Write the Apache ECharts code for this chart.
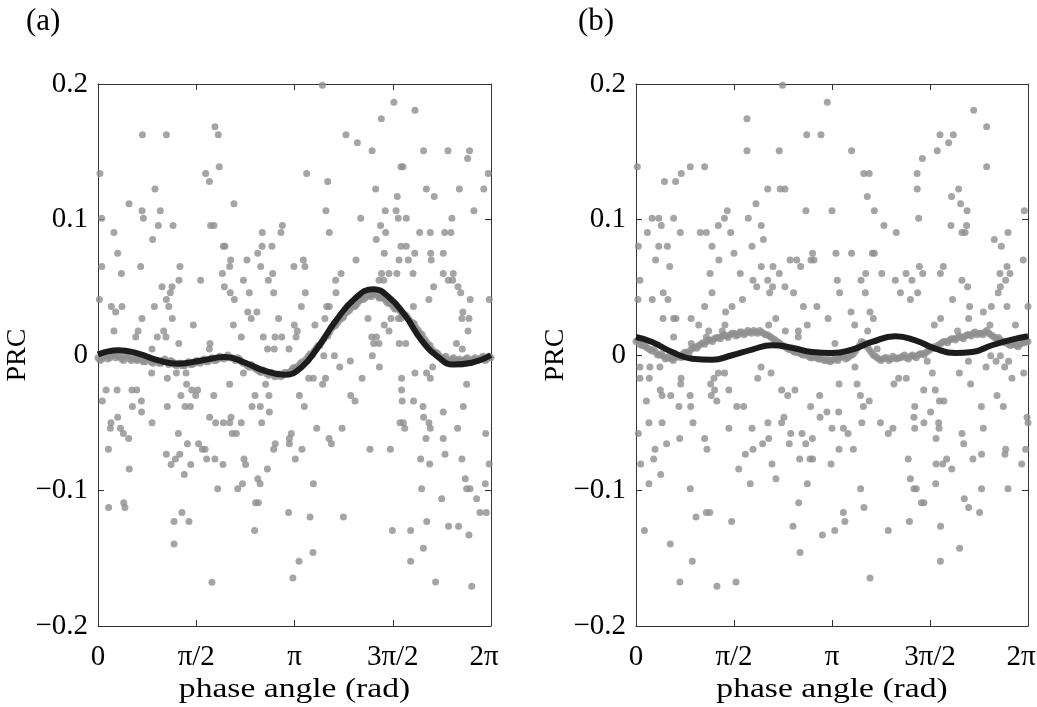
<!DOCTYPE html>
<html>
<head>
<meta charset="utf-8">
<script src="https://cdn.jsdelivr.net/npm/echarts@6/dist/echarts.min.js"></script>
<style>
  html, body { margin: 0; padding: 0; background: #fff; }
  #main { width: 1037px; height: 707px; }
</style>
</head>
<body>
<div id="main"></div>
<script>
// tick labels and titles
var xTickLabels = ['0', 'π/2', 'π', '3π/2', '2π'];
var yTickLabels = ['−0.2', '−0.1', '0', '0.1', '0.2'];
var panelTitles = ['(a)', '(b)'];
var xName = 'phase angle (rad)';
var yName = 'PRC';

// data: [phase (multiples of π), PRC]
// (a) scattered samples
var dotsA = [
	[0.595,0.1685],[0.226,0.1626],[0.348,0.1626],[0.612,0.1626],[0.617,0.139],[0.010,0.134],[0.548,0.134],[0.567,0.128],
	[0.290,0.1225],[0.158,0.1116],[0.692,0.1116],[0.224,0.1064],[0.317,0.1064],[0.019,0.101],[0.231,0.101],[0.307,0.0956],
	[0.382,0.0956],[0.573,0.0956],[0.590,0.0956],[0.938,0.0956],[0.081,0.0904],[0.836,0.0904],[0.931,0.0904],[0.278,0.0852],
	[0.638,0.0803],[0.646,0.0803],[0.835,0.0803],[0.885,0.0803],[0.100,0.0751],[0.813,0.0751],[0.675,0.0702],[0.758,0.0702],
	[0.019,0.0653],[0.217,0.0653],[0.417,0.0653],[0.670,0.0653],[0.828,0.0653],[0.119,0.0601],[0.633,0.0601],[0.889,0.0601],
	[0.412,0.0552],[0.522,0.0552],[0.740,0.0552],[0.867,0.0552],[0.326,0.0503],[0.377,0.0503],[0.643,0.0503],[0.368,0.0459],
	[0.673,0.0459],[0.770,0.0459],[0.894,0.0459],[0.007,0.0409],[0.348,0.0409],[0.694,0.0409],[0.068,0.0358],[0.122,0.0358],
	[0.287,0.0358],[0.360,0.0358],[0.090,0.0318],[0.762,0.0318],[0.809,0.0318],[0.224,0.0269],[0.378,0.0269],[0.780,0.0269],
	[0.919,0.0269],[0.485,0.0222],[0.689,0.0222],[0.081,0.0178],[0.204,0.0178],[0.334,0.0178],[0.192,0.0133],[0.302,0.0133],
	[0.346,0.0133],[0.729,0.0133],[0.841,0.0133],[0.901,0.0133],[0.935,0.0133],[0.411,0.0084],[0.570,0.0084],[0.275,0.0045],
	[0.567,0.0045],[0.863,0.0045],[0.897,0.0045],[0.972,0.0045],
	[1.142,0.199],[1.506,0.1865],[1.613,0.1806],[1.442,0.1744],[1.262,0.1626],[1.320,0.1567],[1.395,0.1508],[1.657,0.1508],
	[1.781,0.1508],[1.891,0.1508],[1.881,0.1451],[1.542,0.139],[1.552,0.139],[1.062,0.134],[1.986,0.134],[1.169,0.128],
	[1.413,0.1225],[1.671,0.1225],[1.839,0.1225],[1.963,0.1225],[1.523,0.117],[1.711,0.117],[1.160,0.1064],[1.462,0.1064],
	[1.517,0.1064],[1.913,0.1064],[1.337,0.101],[1.528,0.101],[1.569,0.101],[1.801,0.101],[1.438,0.0956],[1.177,0.0904],
	[1.464,0.0904],[1.637,0.0904],[1.691,0.0904],[1.764,0.0904],[1.796,0.0904],[1.416,0.0852],[1.542,0.0803],[1.569,0.0803],
	[1.457,0.0751],[1.612,0.0751],[1.693,0.0751],[1.757,0.0751],[1.045,0.0702],[1.313,0.0702],[1.532,0.0702],[1.579,0.0702],
	[1.696,0.0702],[0.997,0.0653],[1.053,0.0653],[1.237,0.0601],[1.443,0.0601],[1.481,0.0601],[1.521,0.0601],[1.603,0.0601],
	[1.757,0.0601],[1.808,0.0601],[1.209,0.0552],[1.430,0.0552],[1.454,0.0552],[1.783,0.0552],[1.805,0.0552],[1.832,0.0503],
	[1.708,0.0503],[1.055,0.0459],[1.211,0.0459],[1.846,0.0459],[1.684,0.0409],[1.894,0.0409],[1.991,0.0409],[1.035,0.0358],
	[1.164,0.0358],[1.177,0.0358],[1.605,0.0358],[1.857,0.0318],[1.155,0.0269],[1.374,0.0269],[1.491,0.0269],[1.528,0.0269],
	[1.542,0.0269],[1.852,0.0269],[1.888,0.0269],[0.999,0.0222],[1.104,0.0222],[1.457,0.0222],[1.014,0.0178],[1.481,0.0178],
	[1.883,0.0178],[1.008,0.0133],[1.393,0.0133],[1.417,0.0133],[1.403,0.0084],[1.430,0.0084],[1.533,0.0084],[1.566,0.0084],
	[1.824,0.0084],[1.854,0.0045],
	[0.041,-0.0258],[0.097,-0.0258],[0.173,-0.0258],[0.197,-0.0258],[0.022,-0.034],[0.221,-0.034],[0.175,-0.038],[0.222,-0.0421],
	[0.100,-0.046],[0.066,-0.050],[0.063,-0.054],[0.275,-0.050],[0.114,-0.054],[0.129,-0.058],[0.156,-0.0616],[0.053,-0.0695],
	[0.159,-0.0842],[0.054,-0.1126],[0.131,-0.1091],[0.137,-0.1126],[0.353,-0.038],[0.422,-0.0298],[0.451,-0.0216],[0.353,-0.0172],
	[0.399,-0.0133],[0.448,-0.0133],[0.273,-0.0133],[0.477,-0.0258],[0.507,-0.0258],[0.497,-0.0298],[0.443,-0.038],[0.470,-0.038],
	[0.409,-0.058],[0.455,-0.0655],[0.512,-0.0655],[0.531,-0.0695],[0.545,-0.0695],[0.348,-0.0732],[0.416,-0.0732],[0.394,-0.0768],
	[0.372,-0.0808],[0.472,-0.0808],[0.439,-0.0882],[0.553,-0.0768],[0.595,-0.0768],[0.636,-0.0808],[0.589,-0.0298],[0.568,-0.046],
	[0.599,-0.050],[0.638,-0.050],[0.670,-0.050],[0.677,-0.046],[0.683,-0.058],[0.704,-0.058],[0.729,-0.050],[0.670,-0.0216],
	[0.740,-0.0133],[0.799,-0.0298],[0.784,-0.038],[0.826,-0.038],[0.870,-0.0298],[0.853,-0.0216],[0.872,-0.0421],[0.833,-0.050],
	[0.743,-0.0768],[0.751,-0.0808],[0.862,-0.0842],[0.813,-0.0914],[0.825,-0.095],[0.735,-0.095],[0.711,-0.0988],[0.609,-0.0988],
	[0.802,-0.1091],[0.816,-0.1091],[0.427,-0.1162],[0.387,-0.1229],[0.463,-0.1229],[0.797,-0.1296],[0.387,-0.1394],[0.580,-0.1678],
	[0.970,-0.1162],[0.992,-0.1645],[1.023,-0.1522],[0.984,-0.058],[0.974,-0.0616],[0.974,-0.0655],[0.902,-0.0655],[0.894,-0.0695],
	[1.004,-0.0768],[1.025,-0.0298],
	[1.149,-0.0005],[1.203,-0.0005],[1.396,-0.0005],[1.284,-0.0045],[1.230,-0.0088],[1.432,-0.0088],[1.072,-0.0172],[1.096,-0.0172],
	[1.158,-0.0172],[1.143,-0.0216],[1.344,-0.0172],[1.050,-0.038],[1.286,-0.0298],[1.308,-0.034],[1.113,-0.054],[1.242,-0.054],
	[1.176,-0.0616],[1.188,-0.0655],[1.038,-0.0695],[1.384,-0.0695],[1.488,-0.0695],[1.096,-0.095],[1.079,-0.1195],[1.249,-0.1195],
	[1.094,-0.1458],[1.498,-0.1296],[1.591,-0.1296],[1.591,-0.1522],[1.656,-0.1426],[1.718,-0.1675],[1.902,-0.1707],[1.545,-0.0172],
	[1.545,-0.0258],[1.548,-0.034],[1.613,-0.0133],[1.672,-0.0133],[1.691,-0.0172],[1.703,-0.0088],[1.606,-0.034],[1.654,-0.038],
	[1.657,-0.046],[1.537,-0.050],[1.554,-0.050],[1.561,-0.054],[1.684,-0.050],[1.691,-0.054],[1.669,-0.0616],[1.642,-0.0768],
	[1.688,-0.0805],[1.647,-0.0988],[1.673,-0.1229],[1.757,-0.042],[1.757,-0.0616],[1.766,-0.0732],[1.749,-0.106],[1.784,-0.1264],
	[1.835,-0.1264],[1.888,-0.1328],[1.876,-0.0216],[1.859,-0.038],[1.830,-0.054],[1.852,-0.0768],[1.869,-0.0914],[1.876,-0.0988],
	[1.893,-0.0988],[1.927,-0.106],[1.944,-0.1162],[1.976,-0.1162],[1.971,-0.095],[1.991,-0.0805],[1.973,-0.058]
];

// (a) dense samples hugging the fitted curve
var bandA = [
	[0.00,-0.002],[0.02,-0.003],[0.04,0.000],[0.06,-0.002],[0.08,0.001],[0.10,-0.001],[0.12,-0.003],[0.14,0.000],
	[0.16,-0.003],[0.18,-0.002],[0.20,-0.004],[0.22,-0.002],[0.24,-0.005],[0.26,-0.003],[0.28,-0.006],[0.30,-0.004],
	[0.32,-0.006],[0.34,-0.003],[0.36,-0.007],[0.38,-0.005],[0.40,-0.008],[0.42,-0.006],[0.44,-0.008],[0.46,-0.005],
	[0.48,-0.007],[0.50,-0.004],[0.52,-0.006],[0.54,-0.003],[0.56,-0.005],[0.58,-0.002],[0.60,-0.004],[0.62,-0.001],
	[0.64,-0.003],[0.66,0.000],[0.68,-0.002],[0.70,-0.004],[0.72,-0.003],[0.74,-0.006],[0.76,-0.008],[0.78,-0.007],
	[0.80,-0.010],[0.82,-0.012],[0.84,-0.011],[0.86,-0.014],[0.88,-0.013],[0.90,-0.016],[0.92,-0.014],[0.94,-0.015],
	[0.96,-0.013],[0.98,-0.012],[1.00,-0.009],[1.02,-0.008],[1.04,-0.005],[1.06,-0.003],[1.08,0.001],[1.10,0.003],
	[1.12,0.007],[1.14,0.010],[1.16,0.014],[1.18,0.017],[1.20,0.021],[1.22,0.024],[1.24,0.027],[1.26,0.031],
	[1.28,0.033],[1.30,0.036],[1.32,0.038],[1.34,0.041],[1.36,0.042],[1.38,0.044],[1.40,0.045],[1.42,0.044],
	[1.44,0.042],[1.46,0.041],[1.48,0.038],[1.50,0.036],[1.52,0.034],[1.54,0.032],[1.56,0.030],[1.58,0.027],
	[1.60,0.024],[1.62,0.020],[1.64,0.016],[1.66,0.012],[1.68,0.008],[1.70,0.004],[1.72,0.002],[1.74,-0.001],
	[1.76,-0.002],[1.78,-0.004],[1.80,-0.003],[1.82,-0.005],[1.84,-0.003],[1.86,-0.004],[1.88,-0.002],[1.90,-0.004],
	[1.92,-0.002],[1.94,-0.003],[1.96,-0.001],[1.98,-0.003],[2.00,-0.002],
	[0.01,-0.004],[0.03,-0.001],[0.05,-0.003],[0.07,0.000],[0.09,-0.002],[0.11,-0.001],[0.13,-0.004],[0.15,-0.001],
	[0.17,-0.004],[0.19,-0.003],[0.21,-0.003],[0.23,-0.005],[0.25,-0.002],[0.27,-0.005],[0.29,-0.004],[0.31,-0.006],
	[0.33,-0.004],[0.35,-0.005],[0.37,-0.004],[0.39,-0.007],[0.41,-0.006],[0.43,-0.008],[0.45,-0.006],[0.47,-0.007],
	[0.49,-0.006],[0.51,-0.005],[0.53,-0.004],[0.55,-0.005],[0.57,-0.003],[0.59,-0.004],[0.61,-0.003],[0.63,-0.002],
	[0.65,-0.002],[0.67,-0.002],[0.69,-0.003],[0.71,-0.002],[0.73,-0.005],[0.75,-0.006],[0.77,-0.009],[0.79,-0.009],
	[0.81,-0.011],[0.83,-0.013],[0.85,-0.012],[0.87,-0.015],[0.89,-0.014],[0.91,-0.015],[0.93,-0.016],[0.95,-0.013],
	[0.97,-0.014],[0.99,-0.010],[1.01,-0.010],[1.03,-0.006],[1.05,-0.005],[1.07,-0.001],[1.09,0.000],[1.11,0.005],
	[1.13,0.007],[1.15,0.012],[1.17,0.014],[1.19,0.020],[1.21,0.022],[1.23,0.026],[1.25,0.028],[1.27,0.032],
	[1.29,0.035],[1.31,0.036],[1.33,0.040],[1.35,0.041],[1.37,0.044],[1.39,0.043],[1.41,0.046],[1.43,0.042],
	[1.45,0.043],[1.47,0.039],[1.49,0.038],[1.51,0.034],[1.53,0.034],[1.55,0.030],[1.57,0.029],[1.59,0.025],
	[1.61,0.023],[1.63,0.018],[1.65,0.015],[1.67,0.010],[1.69,0.007],[1.71,0.002],[1.73,0.001],[1.75,-0.003],
	[1.77,-0.001],[1.79,-0.005],[1.81,-0.002],[1.83,-0.004],[1.85,-0.005],[1.87,-0.003],[1.89,-0.005],[1.91,-0.003],
	[1.93,-0.004],[1.95,-0.002],[1.97,-0.004],[1.99,-0.001]
];

// (a) fitted PRC
var curveA = [
	[0,0.0003],[0.104,0.0035],[0.205,0.001],[0.307,-0.004],[0.409,-0.0064],[0.528,-0.004],[0.646,-0.0015],[0.748,-0.0057],
	[0.850,-0.0118],[0.952,-0.0145],[1.036,-0.009],[1.121,0.006],[1.206,0.0244],[1.308,0.0417],[1.401,0.0485],[1.478,0.043],
	[1.562,0.0293],[1.647,0.0108],[1.732,-0.0015],[1.808,-0.0071],[1.902,-0.0057],[2.0,-0.0002]
];

// (b) scattered samples
var dotsB = [
	[0.748,0.199],[0.976,0.1865],[0.566,0.1744],[0.871,0.1626],[0.944,0.1626],[0.566,0.1508],[0.731,0.1508],[0.007,0.139],
	[0.277,0.139],[0.350,0.139],[0.231,0.134],[0.145,0.128],[0.202,0.128],[0.672,0.1225],[0.736,0.1225],[0.760,0.1225],
	[0.612,0.1116],[0.466,0.1064],[0.867,0.1064],[1.000,0.1064],[0.082,0.101],[0.116,0.101],[0.192,0.101],[0.451,0.101],
	[0.573,0.101],[0.129,0.0956],[0.420,0.0956],[0.639,0.0956],[0.058,0.0904],[0.226,0.0904],[0.328,0.0904],[0.359,0.0904],
	[0.483,0.0904],[0.650,0.0852],[0.012,0.0803],[0.116,0.0803],[0.160,0.0803],[0.388,0.0803],[0.592,0.0803],[0.500,0.0751],
	[0.901,0.0751],[1.020,0.0751],[0.100,0.0702],[0.423,0.0702],[0.786,0.0702],[0.820,0.0702],[0.893,0.0702],[0.908,0.0702],
	[0.172,0.0653],[0.639,0.0653],[0.699,0.0653],[0.840,0.0653],[0.378,0.0601],[0.532,0.0601],[0.731,0.0601],[0.020,0.0552],
	[0.597,0.0552],[0.672,0.0552],[1.027,0.0552],[0.616,0.0503],[0.697,0.0503],[0.760,0.0503],[0.139,0.0459],[0.388,0.0459],
	[0.682,0.0459],[0.804,0.0459],[0.010,0.0409],[0.083,0.0409],[0.163,0.0409],[0.543,0.0409],[0.350,0.0358],[0.490,0.0358],
	[0.854,0.0358],[0.923,0.0358],[0.457,0.0318],[0.138,0.0269],[0.192,0.0269],[0.204,0.0269],[0.281,0.0269],[0.713,0.0269],
	[0.980,0.0269],[0.320,0.0222],[0.454,0.0222],[0.677,0.0222],[0.874,0.0222],[0.371,0.0178],[0.440,0.0178],[0.762,0.0178],
	[0.828,0.0178],[0.192,0.0133],[0.359,0.0133],[0.828,0.0133],[0.282,0.0084],[1.015,0.0084],
	[1.723,0.1806],[1.789,0.1685],[1.551,0.1626],[1.619,0.1626],[1.595,0.1567],[1.100,0.1508],[1.537,0.1508],[1.461,0.1451],
	[1.789,0.139],[1.162,0.134],[1.190,0.134],[1.434,0.134],[1.435,0.1225],[1.646,0.1225],[1.180,0.117],[1.610,0.117],
	[1.656,0.1116],[1.216,0.1064],[1.689,0.1064],[1.981,0.1064],[1.442,0.101],[1.265,0.0956],[1.607,0.0956],[1.687,0.0956],
	[1.328,0.0904],[1.663,0.0904],[1.679,0.0904],[1.898,0.0904],[1.828,0.0852],[1.864,0.0803],[1.100,0.0751],[1.206,0.0751],
	[1.216,0.0751],[1.976,0.0702],[1.446,0.0653],[1.568,0.0653],[1.893,0.0653],[1.172,0.0601],[1.254,0.0601],[1.378,0.0601],
	[1.463,0.0601],[1.553,0.0601],[1.857,0.0601],[1.908,0.0601],[1.148,0.0552],[1.323,0.0552],[1.408,0.0552],[1.663,0.0552],
	[1.886,0.0552],[1.692,0.0503],[1.859,0.0503],[1.039,0.0459],[1.170,0.0459],[1.349,0.0459],[1.437,0.0459],[1.848,0.0459],
	[1.400,0.0409],[1.615,0.0409],[1.702,0.0358],[1.813,0.0358],[1.893,0.0358],[2.000,0.0358],[1.097,0.0318],[1.194,0.0318],
	[1.772,0.0318],[1.116,0.0222],[1.211,0.0269],[1.554,0.0269],[1.697,0.0269],[1.522,0.0222],[1.806,0.0222],[1.936,0.0222],
	[1.182,0.0178],[1.641,0.0178],[1.230,0.0045],
	[0.020,-0.0088],[0.071,-0.0088],[0.122,-0.0088],[0.020,-0.0172],[0.068,-0.0172],[0.230,-0.0172],[0.228,-0.0214],[0.124,-0.0258],
	[0.133,-0.0298],[0.177,-0.0298],[0.053,-0.034],[0.276,-0.0298],[0.219,-0.038],[0.279,-0.038],[0.066,-0.050],[0.133,-0.050],
	[0.291,-0.050],[0.012,-0.058],[0.223,-0.0616],[0.156,-0.0655],[0.097,-0.0695],[0.090,-0.0768],[0.024,-0.0805],[0.126,-0.0882],
	[0.066,-0.095],[0.277,-0.0988],[0.306,-0.1195],[0.359,-0.1162],[0.376,-0.1162],[0.043,-0.1296],[0.175,-0.1394],[0.287,-0.1522],
	[0.224,-0.1675],[0.413,-0.1707],[0.510,-0.1675],[0.488,-0.1229],[0.350,-0.0616],[0.362,-0.0695],[0.420,-0.0133],[0.452,-0.0133],
	[0.398,-0.0172],[0.381,-0.0214],[0.401,-0.0258],[0.384,-0.0298],[0.412,-0.034],[0.474,-0.0258],[0.514,-0.038],[0.549,-0.038],
	[0.474,-0.054],[0.592,-0.054],[0.558,-0.0732],[0.597,-0.0695],[0.524,-0.0842],[0.583,-0.095],[0.638,-0.0088],[0.621,-0.0172],
	[0.689,-0.0133],[0.673,-0.050],[0.677,-0.0616],[0.646,-0.0655],[0.743,-0.0258],[0.774,-0.0298],[0.811,-0.0258],[0.743,-0.050],
	[0.755,-0.046],[0.789,-0.058],[0.782,-0.0655],[0.694,-0.0805],[0.714,-0.0914],[0.847,-0.058],[0.866,-0.0655],[0.900,-0.0616],
	[0.835,-0.0768],[0.888,-0.0768],[0.901,-0.0768],[0.874,-0.095],[0.830,-0.1091],[0.801,-0.1264],[0.837,-0.1458],[0.891,-0.038],
	[0.937,-0.0298],[0.939,-0.046],[0.974,-0.0421],[1.000,-0.054],[0.995,-0.0805],[0.951,-0.1328],[1.014,-0.1296],[1.034,-0.0421],
	[1.036,-0.0695],[1.036,-0.0214],
	[1.117,-0.0088],[1.128,-0.0214],[1.145,-0.0298],[1.160,-0.038],[1.190,-0.034],[1.058,-0.054],[1.082,-0.058],[1.152,-0.050],
	[1.109,-0.0695],[1.146,-0.0988],[1.163,-0.1126],[1.058,-0.1162],[1.066,-0.1229],[1.194,-0.1645],[1.287,-0.1296],[1.247,-0.050],
	[1.287,-0.058],[1.311,-0.054],[1.316,-0.0214],[1.340,-0.0172],[1.379,-0.0172],[1.389,-0.0768],[1.400,-0.0914],[1.395,-0.1229],
	[1.422,-0.038],[1.418,-0.046],[1.422,-0.054],[1.468,-0.0258],[1.469,-0.050],[1.486,-0.0047],[1.512,-0.0133],[1.503,-0.0421],
	[1.527,-0.0258],[1.548,-0.034],[1.571,-0.034],[1.544,-0.050],[1.546,-0.054],[1.531,-0.0616],[1.531,-0.0805],[1.565,-0.0805],
	[1.585,-0.0768],[1.611,-0.0842],[1.418,-0.0988],[1.430,-0.0988],[1.456,-0.1091],[1.469,-0.1091],[1.529,-0.095],[1.554,-0.1264],
	[1.651,-0.1426],[1.553,-0.1522],[1.650,-0.0133],[1.696,-0.0047],[1.707,-0.0214],[1.663,-0.058],[1.672,-0.0655],[1.719,-0.0768],
	[1.675,-0.106],[1.697,-0.1126],[1.753,-0.1162],[1.762,-0.038],[1.772,-0.054],[1.763,-0.0732],[1.763,-0.0988],[1.786,-0.0088],
	[1.837,-0.0047],[1.810,-0.0005],[1.859,-0.0005],[1.881,-0.0088],[1.901,-0.0047],[1.918,-0.0172],[1.842,-0.0298],[1.874,-0.038],
	[1.886,-0.0695],[1.882,-0.0732],[1.898,-0.0988],[1.978,-0.0133],[1.995,-0.046],[2.000,-0.050],[1.988,-0.0695],[1.968,-0.0805]
];

// (b) dense samples near the curve
var bandB = [
	[0.00,0.010],[0.02,0.008],[0.04,0.007],[0.06,0.005],[0.08,0.003],[0.10,0.002],[0.12,0.000],[0.14,-0.001],
	[0.16,-0.002],[0.18,-0.003],[0.20,-0.002],[0.22,-0.001],[0.24,0.001],[0.26,0.002],[0.28,0.004],[0.30,0.006],
	[0.32,0.007],[0.34,0.009],[0.36,0.010],[0.38,0.011],[0.40,0.012],[0.42,0.013],[0.44,0.014],[0.46,0.014],
	[0.48,0.015],[0.50,0.016],[0.52,0.015],[0.54,0.017],[0.56,0.016],[0.58,0.017],[0.60,0.018],[0.62,0.016],
	[0.64,0.017],[0.66,0.015],[0.68,0.014],[0.70,0.012],[0.72,0.010],[0.74,0.008],[0.76,0.006],[0.78,0.004],
	[0.80,0.003],[0.82,0.002],[0.84,0.001],[0.86,0.000],[0.88,-0.001],[0.90,-0.002],[0.92,-0.002],[0.94,-0.003],
	[0.96,-0.004],[0.98,-0.003],[1.00,-0.004],[1.02,-0.003],[1.04,-0.002],[1.06,-0.001],[1.08,-0.002],[1.10,0.000],
	[1.12,0.003],[1.14,0.007],[1.16,0.009],[1.18,0.006],[1.20,0.002],[1.22,-0.001],[1.24,-0.003],[1.26,-0.003],
	[1.28,-0.002],[1.30,-0.003],[1.32,-0.002],[1.34,-0.002],[1.36,-0.001],[1.38,-0.002],[1.40,-0.001],[1.42,-0.001],
	[1.44,0.000],[1.46,0.001],[1.48,0.002],[1.50,0.004],[1.52,0.006],[1.54,0.007],[1.56,0.009],[1.58,0.010],
	[1.60,0.011],[1.62,0.012],[1.64,0.013],[1.66,0.013],[1.68,0.014],[1.70,0.015],[1.72,0.016],[1.74,0.015],
	[1.76,0.016],[1.78,0.017],[1.80,0.016],[1.82,0.014],[1.84,0.012],[1.86,0.011],[1.88,0.009],[1.90,0.008],
	[1.92,0.008],[1.94,0.007],[1.96,0.008],[1.98,0.009],[2.00,0.010],
	[0.01,0.011],[0.03,0.007],[0.05,0.006],[0.07,0.004],[0.09,0.004],[0.11,0.000],[0.13,0.001],[0.15,-0.003],
	[0.17,-0.001],[0.19,-0.004],[0.21,-0.001],[0.23,-0.002],[0.25,0.002],[0.27,0.001],[0.29,0.005],[0.31,0.005],
	[0.33,0.008],[0.35,0.008],[0.37,0.011],[0.39,0.010],[0.41,0.013],[0.43,0.012],[0.45,0.015],[0.47,0.013],
	[0.49,0.016],[0.51,0.014],[0.53,0.017],[0.55,0.015],[0.57,0.018],[0.59,0.016],[0.61,0.017],[0.63,0.018],
	[0.65,0.016],[0.67,0.015],[0.69,0.013],[0.71,0.011],[0.73,0.009],[0.75,0.007],[0.77,0.005],[0.79,0.004],
	[0.81,0.002],[0.83,0.002],[0.85,0.000],[0.87,0.001],[0.89,-0.002],[0.91,-0.001],[0.93,-0.003],[0.95,-0.002],
	[0.97,-0.004],[0.99,-0.005],[1.01,-0.003],[1.03,-0.004],[1.05,-0.001],[1.07,-0.003],[1.09,-0.001],[1.11,0.001],
	[1.13,0.005],[1.15,0.010],[1.17,0.008],[1.19,0.004],[1.21,0.000],[1.23,-0.002],[1.25,-0.004],[1.27,-0.002],
	[1.29,-0.004],[1.31,-0.001],[1.33,-0.003],[1.35,-0.002],[1.37,0.000],[1.39,-0.003],[1.41,0.000],[1.43,-0.002],
	[1.45,0.001],[1.47,0.000],[1.49,0.003],[1.51,0.005],[1.53,0.005],[1.55,0.008],[1.57,0.010],[1.59,0.009],
	[1.61,0.012],[1.63,0.011],[1.65,0.014],[1.67,0.012],[1.69,0.015],[1.71,0.014],[1.73,0.017],[1.75,0.016],
	[1.77,0.015],[1.79,0.018],[1.81,0.015],[1.83,0.013],[1.85,0.013],[1.87,0.010],[1.89,0.010],[1.91,0.007],
	[1.93,0.009],[1.95,0.006],[1.97,0.009],[1.99,0.010]
];

// (b) fitted PRC
var curveB = [
	[0,0.0133],[0.082,0.0096],[0.184,0.0022],[0.286,-0.0027],[0.388,-0.0035],[0.490,-0.0002],[0.592,0.004],[0.694,0.0072],
	[0.796,0.0054],[0.898,0.0022],[1.0,0.0015],[1.102,0.004],[1.204,0.0096],[1.323,0.0138],[1.425,0.0108],[1.527,0.0047],
	[1.629,0.0015],[1.714,0.0022],[1.816,0.0072],[1.918,0.0113],[2.0,0.0138]
];

var font = 'Liberation Serif';
var frameColor = '#333';
var dotColor = '#8e8e8e';
var lineColor = '#1c1c1c';

var chart = echarts.init(document.getElementById('main'));

var grids = [
	{ left: 98, top: 84, width: 393, height: 542, outerBoundsMode: 'none', containLabel: false },
	{ left: 636, top: 84, width: 392, height: 542, outerBoundsMode: 'none', containLabel: false }
];

var xAxes = [];
var yAxes = [];
var series = [];
var titles = [];
var graphics = [];

[[dotsA, bandA, curveA], [dotsB, bandB, curveB]].forEach(function (p, i) {
	// bottom (labelled) and top (ticks only) x axes, left / right y axes
	[true, false].forEach(function (main) {
		xAxes.push({
			gridIndex: i,
			type: 'value',
			position: main ? 'bottom' : 'top',
			min: 0,
			max: 2,
			interval: 0.5,
			axisLine: { show: true, onZero: false, lineStyle: { color: frameColor, width: 1 } },
			axisTick: { show: true, inside: true, length: 6, lineStyle: { color: frameColor } },
			axisLabel: {
				show: main,
				margin: 17,
				color: '#000',
				fontFamily: font,
				fontSize: 29,
				formatter: function (v) {
					var k = Math.round(v / 0.5);
					// last label sits a little left of its tick, as in the original
					return k === 4 ? '{last|' + xTickLabels[k] + '}' : xTickLabels[k];
				},
				rich: {
					last: { fontFamily: font, fontSize: 29, color: '#000', padding: [0, 14, 0, 0] }
				}
			},
			splitLine: { show: false }
		});
		yAxes.push({
			gridIndex: i,
			type: 'value',
			position: main ? 'left' : 'right',
			min: -0.2,
			max: 0.2,
			interval: 0.1,
			axisLine: { show: true, onZero: false, lineStyle: { color: frameColor, width: 1 } },
			axisTick: { show: true, inside: true, length: 6, lineStyle: { color: frameColor } },
			axisLabel: {
				show: main,
				margin: 10,
				padding: [6, 0, 0, 0],
				color: '#000',
				fontFamily: font,
				fontSize: 29,
				formatter: function (v) { return yTickLabels[Math.round((v + 0.2) / 0.1)]; }
			},
			splitLine: { show: false },
			name: main ? yName : '',
			nameLocation: 'middle',
			nameGap: 63,
			nameTextStyle: { color: '#000', fontFamily: font, fontSize: 28 }
		});
	});

	series.push({
		type: 'scatter',
		xAxisIndex: 2 * i,
		yAxisIndex: 2 * i,
		symbolSize: 7,
		itemStyle: { color: dotColor },
		data: p[0]
	});
	series.push({
		type: 'scatter',
		xAxisIndex: 2 * i,
		yAxisIndex: 2 * i,
		symbolSize: 7,
		itemStyle: { color: dotColor },
		data: p[1]
	});
	series.push({
		type: 'line',
		xAxisIndex: 2 * i,
		yAxisIndex: 2 * i,
		smooth: 0.5,
		showSymbol: false,
		z: 5,
		lineStyle: { color: lineColor, width: 6 },
		data: p[2]
	});

	titles.push({
		text: panelTitles[i],
		left: i === 0 ? 21 : 573,
		top: 1,
		textStyle: { color: '#000', fontFamily: font, fontSize: 31, fontWeight: 'normal' }
	});

	// x axis name, stretched a little to match the wide lettering of the original
	graphics.push({
		type: 'text',
		x: grids[i].left + grids[i].width / 2,
		y: 690,
		scaleX: 1.2,
		style: {
			text: xName,
			fill: '#000',
			font: '28px "Liberation Serif"',
			textAlign: 'center',
			textVerticalAlign: 'middle'
		}
	});
});

chart.setOption({
	animation: false,
	backgroundColor: '#fff',
	title: titles,
	grid: grids,
	xAxis: xAxes,
	yAxis: yAxes,
	series: series,
	graphic: graphics
});
</script>
</body>
</html>
